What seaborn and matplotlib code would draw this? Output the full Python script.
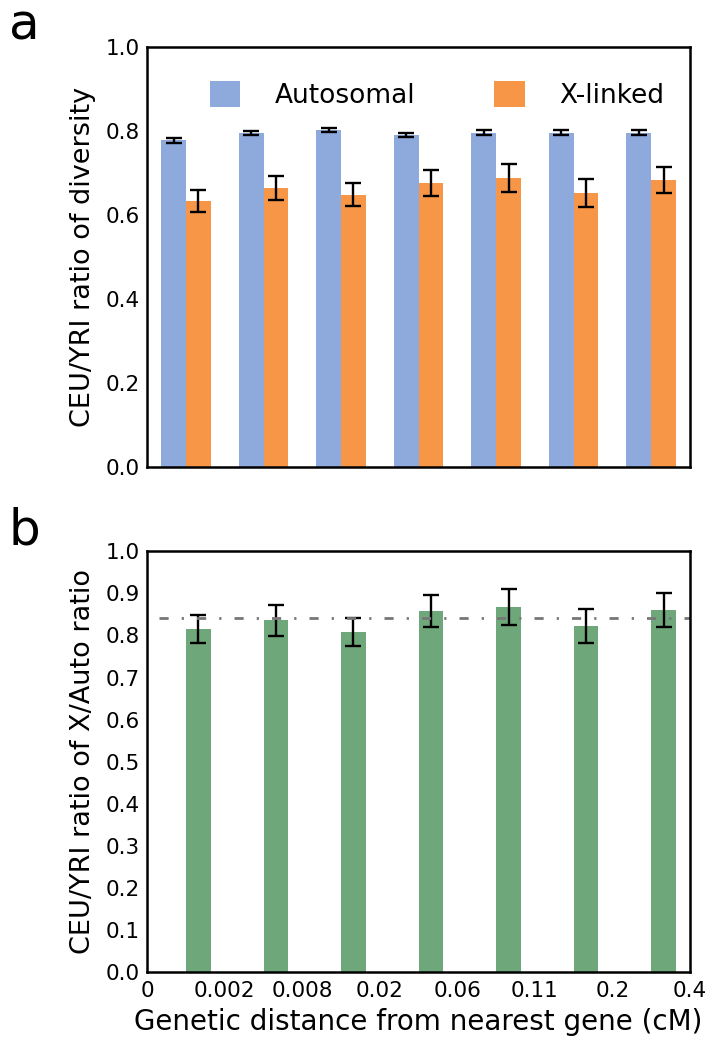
import numpy as np
import pandas as pd
import matplotlib
matplotlib.use("Agg")
import matplotlib.pyplot as plt
import seaborn as sns


# DADOS
bins = ["0", "0.002", "0.008", "0.02", "0.06", "0.11", "0.2", "0.4"]

auto_vals = [0.778, 0.796, 0.803, 0.791, 0.797, 0.797, 0.797]
auto_err = [0.005, 0.004, 0.005, 0.005, 0.006, 0.006, 0.005]

xlink_vals = [0.633, 0.665, 0.649, 0.677, 0.689, 0.653, 0.684]
xlink_err = [0.026, 0.029, 0.027, 0.031, 0.034, 0.033, 0.032]

ratio_vals = [0.816, 0.836, 0.809, 0.858, 0.867, 0.823, 0.860]
ratio_err = [0.033, 0.037, 0.033, 0.039, 0.043, 0.041, 0.040]

ratio_mean = 0.841

cor_auto = "#8EA9DB"
cor_x = "#F79646"
cor_ratio = "#6EA87A"

sns.set_theme(style="white")
plt.rcParams["font.family"] = ["DejaVu Sans"]
plt.rcParams["text.color"] = "black"
plt.rcParams["axes.labelcolor"] = "black"
plt.rcParams["xtick.color"] = "black"
plt.rcParams["ytick.color"] = "black"
plt.rcParams["axes.linewidth"] = 1.8
plt.rcParams["xtick.direction"] = "in"
plt.rcParams["ytick.direction"] = "in"

n = len(auto_vals)
centros = np.arange(n) + 0.5
desl = 0.16

fig = plt.figure(figsize=(7.18, 10.5), dpi=100)
ax1 = fig.add_axes([0.205, 0.555, 0.756, 0.400])
ax2 = fig.add_axes([0.205, 0.074, 0.756, 0.401])

# PAINEL A
df_a = pd.DataFrame({
    "pos": np.concatenate([centros, centros]),
    "val": auto_vals + xlink_vals,
    "tipo": ["Autosomal"] * n + ["X-linked"] * n,
})

sns.barplot(
    data=df_a, x="pos", y="val", hue="tipo",
    native_scale=True, width=0.64, dodge=True,
    palette=[cor_auto, cor_x], errorbar=None,
    saturation=1, linewidth=0, ax=ax1
)

ax1.errorbar(centros - desl, auto_vals, yerr=auto_err, fmt="none",
             ecolor="black", elinewidth=1.7, capsize=6, capthick=1.7)
ax1.errorbar(centros + desl, xlink_vals, yerr=xlink_err, fmt="none",
             ecolor="black", elinewidth=1.7, capsize=6, capthick=1.7)

ax1.set_xlim(0, n)
ax1.set_ylim(0, 1.0)
ax1.set_yticks(np.arange(0, 1.01, 0.2))
ax1.set_xticks([])
ax1.set_xlabel("")
ax1.set_ylabel("CEU/YRI ratio of diversity", fontsize=19.5, labelpad=7)
ax1.tick_params(axis="y", labelsize=15.5, length=7, width=1, pad=5)

handles, labels = ax1.get_legend_handles_labels()
ax1.legend(handles, labels, loc="center", bbox_to_anchor=(0.534, 0.886),
           ncol=2, frameon=False, fontsize=19, handlelength=1.15,
           handleheight=1.15, handletextpad=1.3, columnspacing=3.0)

# PAINEL B
sns.barplot(
    x=centros + desl, y=ratio_vals, native_scale=True, width=0.32,
    color=cor_ratio, errorbar=None, saturation=1, linewidth=0, ax=ax2
)

ax2.errorbar(centros + desl, ratio_vals, yerr=ratio_err, fmt="none",
             ecolor="black", elinewidth=1.7, capsize=6, capthick=1.7)

ax2.hlines(ratio_mean, 0.15, n, colors="#777777", linewidth=2,
           linestyle=(0, (3.3, 4.7, 0.8, 4.7)))

ax2.set_xlim(0, n)
ax2.set_ylim(0, 1.0)
ax2.set_yticks(np.arange(0, 1.01, 0.1))
ax2.set_xticks(np.arange(n + 1))
ax2.set_xticklabels(bins)
ax2.set_xlabel("Genetic distance from nearest gene (cM)", fontsize=20, labelpad=5)
ax2.set_ylabel("CEU/YRI ratio of X/Auto ratio", fontsize=19.5, labelpad=7)
ax2.tick_params(axis="y", labelsize=15.5, length=7, width=1, pad=5)
ax2.tick_params(axis="x", labelsize=15.5, length=7, width=1, pad=6)

for ax in (ax1, ax2):
    for s in ax.spines.values():
        s.set_color("black")
        s.set_linewidth(1.8)

fig.text(0.012, 0.962, "a", fontsize=36, va="baseline")
fig.text(0.012, 0.481, "b", fontsize=36, va="baseline")

fig.savefig("out.png", dpi=100)
